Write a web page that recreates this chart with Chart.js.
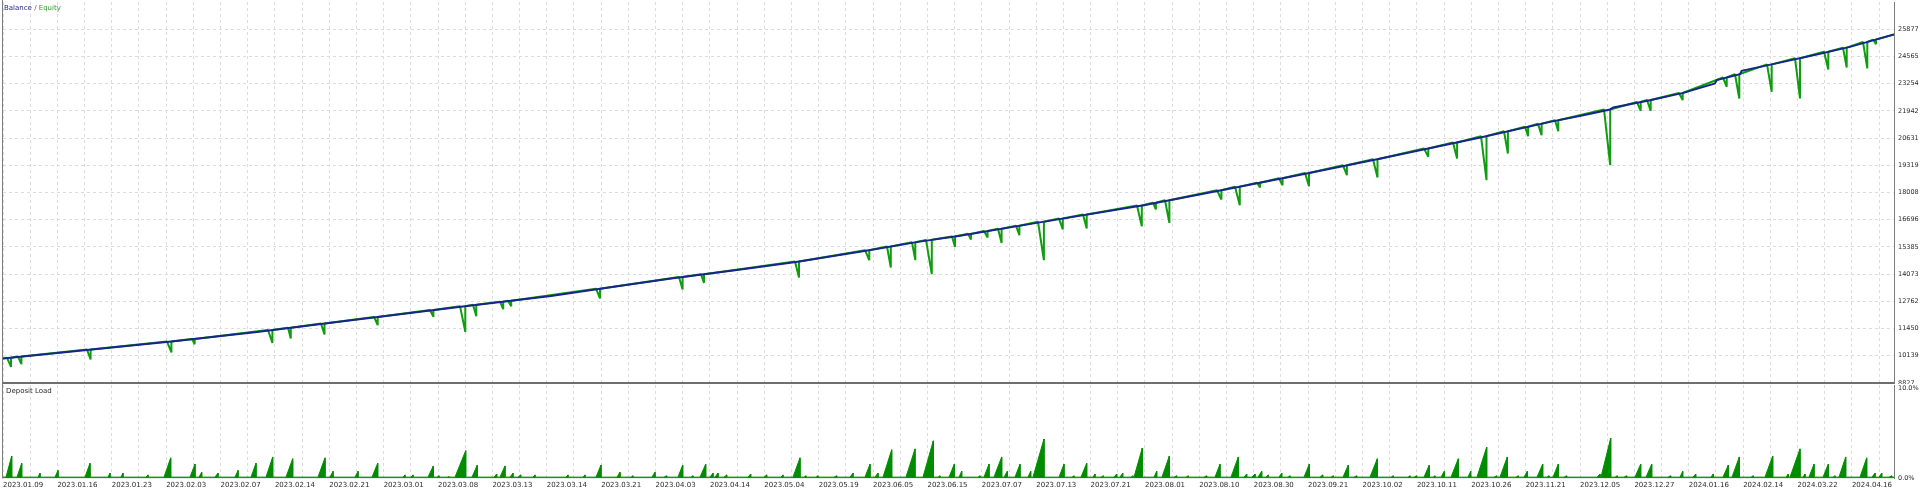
<!DOCTYPE html>
<html>
<head>
<meta charset="utf-8">
<title>Balance / Equity</title>
<script src="https://cdn.jsdelivr.net/npm/chart.js@4.4.1/dist/chart.umd.min.js"></script>
<style>
    body { margin: 0; background: #ffffff; }
    #wrap { position: relative; width: 1920px; height: 490px; overflow: hidden; }
    canvas { position: absolute; left: 0; }
    #equityChart { top: 0; }
    #loadChart { top: 384px; }
</style>
</head>
<body>
<div id="wrap">
    <canvas id="equityChart" width="1920" height="384"></canvas>
    <canvas id="loadChart" width="1920" height="106"></canvas>
</div>
<script>
// x runs along the test in deal order, 0 .. xEnd
let xEnd = 1891
let xGridStep = 27.19

let xLabels = ["2023.01.09", "2023.01.16", "2023.01.23", "2023.02.03", "2023.02.07", "2023.02.14",
    "2023.02.21", "2023.03.01", "2023.03.08", "2023.03.13", "2023.03.14", "2023.03.21", "2023.04.03",
    "2023.04.14", "2023.05.04", "2023.05.19", "2023.06.05", "2023.06.15", "2023.07.07", "2023.07.13",
    "2023.07.21", "2023.08.01", "2023.08.10", "2023.08.30", "2023.09.21", "2023.10.02", "2023.10.11",
    "2023.10.26", "2023.11.21", "2023.12.05", "2023.12.27", "2024.01.16", "2024.02.14", "2024.03.22",
    "2024.04.16"]

let yTicks = [8827, 10139, 11450, 12762, 14073, 15385, 16696, 18008, 19319, 20631, 21942, 23254, 24565, 25877]
let yMin = 8827
let yMax = 27189

let loadTicks = [0, 10]
let loadTickLabels = ["0.0%", "10.0%"]
let loadMax = 10.42

// balance curve
let balanceX = [0, 88.8, 168.4, 254, 340, 462, 548, 609, 670, 732, 793, 866, 915, 957, 1039.7, 1140.7,
    1232.6, 1300, 1373, 1477.5, 1547, 1580.3, 1607, 1610.3, 1647, 1680.3, 1712, 1713.7, 1737, 1738.7,
    1780.3, 1813.7, 1847, 1888.7, 1891]
let balanceY = [10010, 10442, 10827, 11290, 11806, 12529, 13025, 13459, 13878, 14264, 14664, 15228, 15628,
    15927, 16592, 17397, 18250, 18891, 19600, 20660, 21412, 21735, 22010, 22106, 22458, 22810, 23264, 23424,
    23713, 23870, 24304, 24660, 25027, 25591, 25620]

// equity drawdowns: where the dip starts, where it bottoms, its low and the balance level
let dipFrom = [4, 15, 84, 164, 189, 265, 285, 318, 371, 427, 457, 470, 497, 505, 593, 676, 698, 792, 862, 884,
    909, 923, 949, 965, 981, 995, 1013, 1035, 1056, 1080, 1134, 1150, 1162, 1214, 1232, 1254, 1276, 1302, 1340,
    1370, 1421, 1450, 1478, 1501, 1522, 1535, 1552, 1601, 1634, 1644, 1676, 1720, 1732, 1764, 1792, 1821, 1840,
    1860, 1870]
let dipX = [8, 18.4, 87.6, 168.4, 191.7, 269.4, 287.8, 321.5, 374.7, 430.4, 462.3, 473.3, 500.2, 508.2, 597,
    679.6, 701, 796, 866.3, 887.8, 912.3, 928.8, 952, 968, 984.6, 998.6, 1016.4, 1040.9, 1059.8, 1083.7, 1138.8,
    1152.9, 1166.4, 1218.4, 1236.8, 1257, 1279.6, 1306, 1343.9, 1374.5, 1425.3, 1454.1, 1483.5, 1504.9, 1525.1,
    1538.6, 1555.3, 1607.2, 1637.7, 1647.7, 1679.7, 1723.7, 1736.3, 1768.7, 1797, 1825.3, 1843.7, 1864.3, 1873]
let dipLow = [9603, 9733, 9960, 10297, 10697, 10760, 10972, 11165, 11613, 12013, 11290, 12047, 12384, 12529,
    12900, 13334, 13655, 13912, 14746, 14394, 14746, 14071, 15387, 15744, 15840, 15580, 15951, 14746, 16226,
    16274, 16385, 17190, 16544, 17672, 17397, 18250, 18361, 18313, 18843, 18732, 19725, 19648, 18602, 19889,
    20723, 20771, 20963, 19325, 21942, 21942, 22458, 23099, 22540, 22858, 22540, 23938, 24034, 23986, 25157]
let dipTop = [10049, 10099, 10436, 10827, 10953, 11382, 11493, 11695, 12012, 12342, 12531, 12594, 12749, 12795,
    13373, 13938, 14071, 14687, 15230, 15406, 15606, 15726, 15891, 16015, 16149, 16261, 16404, 16602, 16752,
    16943, 17382, 17510, 17636, 18118, 18290, 18482, 18697, 18949, 19317, 19615, 20130, 20422, 20725, 20956,
    21175, 21321, 21493, 22010, 22368, 22465, 22804, 23548, 23705, 24183, 24482, 24788, 24991, 25261, 25379]

// deposit load spikes (%): start of the rise, peak position, peak value
let loadFloor = 0.15
let loadFrom = [3, 14, 35, 52, 82, 105, 118, 143, 161, 187, 196, 212, 232, 248, 263, 283, 315, 327, 352, 369,
    400, 408, 425, 434, 444, 452, 469, 491, 497, 507, 515, 530, 563, 580, 593, 614, 628, 649, 661, 675,
    688, 697, 707, 712, 721, 745, 761, 778, 790, 801, 813, 831, 847, 862, 872, 880,
    903, 920, 935, 946, 956, 975, 981, 991, 1001, 1012, 1025, 1030, 1056, 1069, 1078, 1090, 1098, 1111, 1117, 1128,
    1131, 1151, 1159, 1171, 1183, 1201, 1212, 1228, 1241, 1249, 1255, 1263, 1276, 1285, 1301, 1317, 1328, 1340,
    1351, 1367, 1388,
    1405, 1411, 1421, 1430, 1438, 1448, 1465, 1474, 1491, 1497, 1513, 1521, 1534, 1544, 1550, 1561, 1594, 1598,
    1612, 1621, 1632, 1643, 1665, 1677, 1690, 1708, 1720, 1729, 1748, 1762, 1783, 1787, 1800, 1806, 1820, 1830,
    1836, 1857, 1869, 1876, 1886]
let loadX = [8.7, 18.7, 37, 55, 87, 107, 120, 145, 167.7, 192, 198.7, 215, 235, 253, 269.7, 289.7, 322, 330, 355, 374.7,
    402, 410, 430.3, 436, 446, 462.7, 474.3, 493.7, 502, 510, 517.7, 532, 565, 582, 598, 617, 630, 652, 663.7, 679.7,
    690, 702.7, 710, 715, 723.7, 747.7, 763.7, 780, 797, 803, 815, 833.7, 850, 867, 875, 888.7,
    912, 930.3, 937, 951.3, 958.7, 977, 986, 998.7, 1004.3, 1017, 1027.7, 1041, 1061, 1071, 1083.7, 1092, 1100.3,
    1113.7, 1119.7, 1130, 1139.3, 1153.7, 1166.3, 1173.7, 1185.3, 1203.7, 1217, 1235.3, 1243.7, 1252, 1258.7,
    1265.3, 1278.7, 1287, 1306.3, 1319.7, 1330.3, 1345.3, 1353.7, 1374.3, 1390.3,
    1407, 1413.7, 1426.3, 1432, 1441.3, 1455.3, 1467.7, 1483.7, 1493.7, 1504.3, 1515.3, 1524.3, 1539.7, 1546,
    1555.3, 1563.7, 1597, 1607.7, 1614.3, 1623.7, 1637.7, 1648.7, 1667.7, 1679.7, 1692.7, 1710.3, 1725.3, 1736.3,
    1750.3, 1769.7, 1785.3, 1797, 1802, 1811, 1825.3, 1832, 1842.7, 1863.7, 1872, 1878.7, 1888.7]
let loadPeak = [2.5, 1.7, 0.6, 0.9, 1.7, 0.6, 0.6, 0.4, 2.3, 1.6, 0.7, 0.6, 0.9, 1.7, 2.4, 2.2, 2.3, 0.8, 0.8, 1.7,
    0.4, 0.4, 1.4, 0.3, 0.2, 3.1, 1.5, 0.5, 1.4, 0.6, 0.4, 0.4, 0.4, 0.4, 1.5, 0.7, 0.3, 0.7, 0.3, 1.5,
    0.3, 1.6, 0.6, 0.6, 0.4, 0.5, 0.4, 0.4, 2.3, 0.3, 0.3, 0.3, 0.6, 1.6, 0.6, 3.2,
    3.3, 4.2, 0.3, 1.6, 0.8, 0.3, 1.6, 2.4, 0.8, 1.6, 0.8, 4.4, 1.6, 0.3, 1.7, 0.5, 0.3, 0.5, 0.6, 0.3,
    3.4, 0.8, 2.5, 0.3, 0.3, 0.3, 1.6, 2.4, 0.5, 0.5, 0.8, 0.4, 0.6, 0.3, 1.6, 0.4, 0.3, 1.5, 0.3, 2.2, 0.3,
    0.3, 0.3, 1.5, 0.3, 0.8, 2.2, 0.8, 3.5, 0.3, 2.4, 0.3, 0.8, 1.6, 0.3, 1.6, 0.3, 0.5, 4.5,
    0.3, 0.3, 1.6, 1.6, 0.3, 0.8, 0.5, 0.5, 1.5, 2.4, 0.3, 2.5, 0.5, 3.3, 0.5, 1.6, 1.6, 0.3,
    2.4, 2.3, 0.6, 0.6, 0.3]

let fontFamily = '"DejaVu Sans", sans-serif'
let gridColor = '#dcdcdc'
let axisColor = '#7d7d7d'


function balancePoints() {
    return balanceX.map((x, i) => ({x: x, y: balanceY[i]}))
}


function equityPoints() {
    // equity sits on the balance line and drops away while trades are open
    let pts = [{x: 0, y: balanceY[0]}]
    for (let i = 0; i < dipX.length; i++) {
        pts.push({x: dipFrom[i], y: dipTop[i]})
        pts.push({x: dipX[i], y: dipLow[i]})
        pts.push({x: dipX[i], y: dipTop[i]})
    }
    pts.push({x: xEnd, y: balanceY[balanceY.length - 1]})
    return pts
}


function loadPoints() {
    let pts = [{x: 0, y: loadFloor}]
    for (let i = 0; i < loadX.length; i++) {
        pts.push({x: loadFrom[i], y: loadFloor})
        pts.push({x: loadX[i], y: loadPeak[i]})
        pts.push({x: loadX[i], y: loadFloor})
    }
    pts.push({x: xEnd, y: loadFloor})
    return pts
}


function gridTicks(scale) {
    let ticks = []
    for (let k = 0; k * xGridStep <= xEnd; k++) {
        ticks.push({value: k * xGridStep})
    }
    scale.ticks = ticks
}


function fixWidth(w) {
    return function(scale) {
        scale.width = w
        scale.paddingTop = 0
        scale.paddingBottom = 0
    }
}


function fixHeight(h) {
    return function(scale) {
        scale.height = h
        scale.paddingLeft = 0
        scale.paddingRight = 0
    }
}


// left frame line and the panel caption
let framePlugin = {
    id: 'frame',
    afterDraw(chart, args, opts) {
        let ctx = chart.ctx
        let a = chart.chartArea
        ctx.save()
        ctx.strokeStyle = axisColor
        ctx.lineWidth = 1
        ctx.beginPath()
        ctx.moveTo(a.left - 0.5, 0)
        ctx.lineTo(a.left - 0.5, a.bottom)
        ctx.stroke()

        ctx.font = '7px ' + fontFamily
        ctx.textBaseline = 'middle'
        let x = a.left + opts.dx
        opts.caption.forEach(part => {
            ctx.fillStyle = part.color
            ctx.fillText(part.text, x, opts.y)
            x += ctx.measureText(part.text).width
        })
        ctx.restore()
    }
}


function initEquity() {
    let ctx = document.getElementById('equityChart')
    return new Chart(ctx, {
        type: 'line',
        data: {
            datasets: [{
                label: 'Balance',
                data: balancePoints(),
                borderColor: '#16258c',
                borderWidth: 2,
                pointRadius: 0,
                tension: 0,
                order: 0
            }, {
                label: 'Equity',
                data: equityPoints(),
                borderColor: '#109c10',
                borderWidth: 2,
                borderJoinStyle: 'bevel',
                pointRadius: 0,
                tension: 0,
                order: 1
            }]
        },
        options: {
            responsive: false,
            animation: false,
            devicePixelRatio: 1,
            events: [],
            layout: { padding: { left: 3, top: 2, right: 0, bottom: 0 } },
            scales: {
                x: {
                    type: 'linear',
                    min: 0,
                    max: xEnd,
                    afterBuildTicks: gridTicks,
                    afterFit: fixHeight(1),
                    ticks: { display: false },
                    grid: { color: gridColor, drawTicks: false },
                    border: { display: true, color: '#6e6e6e', width: 2, dash: [3, 3] }
                },
                y: {
                    position: 'right',
                    min: yMin,
                    max: yMax,
                    afterBuildTicks: scale => { scale.ticks = yTicks.map(v => ({value: v})) },
                    afterFit: fixWidth(26),
                    ticks: {
                        autoSkip: false,
                        padding: 4,
                        color: '#2a2a2a',
                        font: { family: fontFamily, size: 6.5 },
                        callback: function(value, index) {
                            return String(yTicks[index])
                        }
                    },
                    grid: { color: gridColor, drawTicks: false },
                    border: { display: true, color: axisColor, width: 1, dash: [3, 3] }
                }
            },
            plugins: {
                legend: { display: false },
                tooltip: { enabled: false },
                frame: {
                    dx: 1,
                    y: 8.5,
                    caption: [
                        { text: 'Balance', color: '#25258c' },
                        { text: ' / ', color: '#555555' },
                        { text: 'Equity', color: '#2c9c2c' }
                    ]
                }
            }
        },
        plugins: [framePlugin]
    })
}


function initLoad() {
    let ctx = document.getElementById('loadChart')
    return new Chart(ctx, {
        type: 'line',
        data: {
            datasets: [{
                label: 'Deposit Load',
                data: loadPoints(),
                borderColor: '#008c00',
                backgroundColor: '#008c00',
                borderWidth: 1,
                borderJoinStyle: 'bevel',
                fill: 'origin',
                pointRadius: 0,
                tension: 0
            }]
        },
        options: {
            responsive: false,
            animation: false,
            devicePixelRatio: 1,
            events: [],
            layout: { padding: { left: 3, top: 1, right: 0, bottom: 0 } },
            scales: {
                x: {
                    type: 'linear',
                    min: 0,
                    max: xEnd,
                    afterBuildTicks: gridTicks,
                    afterFit: fixHeight(11.5),
                    ticks: {
                        autoSkip: false,
                        maxRotation: 0,
                        minRotation: 0,
                        align: 'start',
                        padding: 2.3,
                        color: '#2a2a2a',
                        font: { family: fontFamily, size: 7 },
                        // a date under every second grid line
                        callback: function(value, index) {
                            if (index % 2 !== 0) return ''
                            return xLabels[index / 2] || ''
                        }
                    },
                    grid: { color: gridColor, drawTicks: false },
                    border: { display: false, dash: [3, 3] }
                },
                y: {
                    position: 'right',
                    min: 0,
                    max: loadMax,
                    afterBuildTicks: scale => { scale.ticks = loadTicks.map(v => ({value: v})) },
                    afterFit: fixWidth(26),
                    ticks: {
                        autoSkip: false,
                        padding: 4,
                        color: '#2a2a2a',
                        font: { family: fontFamily, size: 6.5 },
                        callback: function(value, index) {
                            return loadTickLabels[index]
                        }
                    },
                    grid: { display: false, drawTicks: false },
                    border: { display: true, color: axisColor, width: 1 }
                }
            },
            plugins: {
                legend: { display: false },
                tooltip: { enabled: false },
                frame: {
                    dx: 3,
                    y: 7.5,
                    caption: [ { text: 'Deposit Load', color: '#2a2a2a' } ]
                }
            }
        },
        plugins: [framePlugin]
    })
}


initEquity()
initLoad()
</script>
</body>
</html>
